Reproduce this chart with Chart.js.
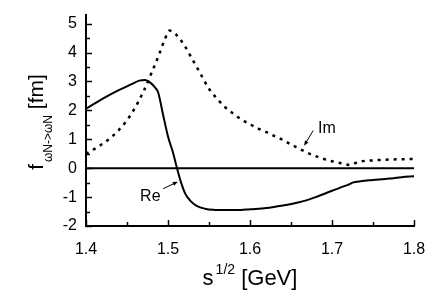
<!DOCTYPE html>
<html>
<head>
<meta charset="utf-8">
<script src="https://cdn.jsdelivr.net/npm/chart.js@4/dist/chart.umd.min.js"></script>
<style>
  html, body { margin: 0; padding: 0; background: #fff; }
  #wrap { width: 432px; height: 300px; }
</style>
</head>
<body>
<div id="wrap"><canvas id="c" width="432" height="300"></canvas></div>
<script>
// ---- data ----
const reX = [1.40, 1.42, 1.44, 1.455, 1.465, 1.472, 1.478, 1.484, 1.488, 1.494, 1.500, 1.506, 1.511, 1.516, 1.521, 1.527, 1.535, 1.545, 1.555, 1.57, 1.585, 1.60, 1.62, 1.64, 1.66, 1.68, 1.70, 1.715, 1.72, 1.725, 1.735, 1.75, 1.77, 1.785, 1.80];
const reY = [2.06, 2.40, 2.70, 2.90, 3.03, 3.05, 2.97, 2.80, 2.62, 1.85, 1.10, 0.55, 0.00, -0.50, -0.88, -1.12, -1.30, -1.40, -1.44, -1.45, -1.45, -1.42, -1.38, -1.29, -1.18, -1.00, -0.78, -0.62, -0.57, -0.50, -0.45, -0.41, -0.36, -0.31, -0.28];
const imX = [1.40, 1.41, 1.42, 1.43, 1.44, 1.45, 1.46, 1.47, 1.48, 1.49, 1.496, 1.502, 1.51, 1.52, 1.53, 1.54, 1.55, 1.56, 1.57, 1.58, 1.59, 1.60, 1.61, 1.62, 1.63, 1.64, 1.65, 1.66, 1.67, 1.68, 1.69, 1.70, 1.71, 1.722, 1.732, 1.75, 1.77, 1.80];
const imY = [0.50, 0.66, 0.84, 1.05, 1.32, 1.66, 2.10, 2.65, 3.30, 4.00, 4.45, 4.76, 4.62, 4.25, 3.75, 3.25, 2.75, 2.40, 2.10, 1.88, 1.68, 1.52, 1.37, 1.25, 1.11, 0.98, 0.82, 0.68, 0.53, 0.42, 0.32, 0.24, 0.18, 0.11, 0.22, 0.27, 0.30, 0.32];
const xTickValues = [1.4, 1.5, 1.6, 1.7, 1.8];
const yTickValues = [-2, -1, 0, 1, 2, 3, 4, 5];
// annotation anchors (data units)
const imLabel = { text: "Im", x: 1.683, y: 1.23, arrowFrom: [1.677, 1.30], arrowTo: [1.666, 0.78] };
const reLabel = { text: "Re", x: 1.466, y: -1.12, arrowFrom: [1.494, -0.71], arrowTo: [1.512, -0.47] };

const FONT = '"Liberation Sans", Arial, Helvetica, sans-serif';

const toPts = (xs, ys) => xs.map((x, i) => ({ x: x, y: ys[i] }));
const isMajor = (v, list) => list.some(t => Math.abs(t - v) < 1e-6);
const noScalePad = s => { s.paddingTop = 0; s.paddingBottom = 0; s.paddingLeft = 0; s.paddingRight = 0; };

const decor = {
  id: 'decor',
  beforeDatasetsDraw(chart) {
    const { ctx, chartArea: a, scales: { y } } = chart;
    ctx.save();
    ctx.strokeStyle = '#000';
    ctx.lineWidth = 2;
    const y0 = y.getPixelForValue(0);
    ctx.beginPath();
    ctx.moveTo(a.left, y0);
    ctx.lineTo(a.right, y0);
    ctx.stroke();
    ctx.restore();
  },
  afterDraw(chart) {
    const { ctx, chartArea: a, scales: { x, y } } = chart;
    ctx.save();
    ctx.strokeStyle = '#000';
    ctx.lineWidth = 1.5;
    for (let v = 1.4; v <= 1.8001; v += 0.05) {
      const px = Math.round(x.getPixelForValue(v)) + 0.5;
      const len = isMajor(v, xTickValues) ? 6 : 4;
      ctx.beginPath();
      ctx.moveTo(px, a.bottom);
      ctx.lineTo(px, a.bottom - len);
      ctx.stroke();
    }
    for (let v = -2; v <= 5.0001; v += 0.5) {
      const py = Math.round(y.getPixelForValue(v)) + 0.5;
      const len = isMajor(v, yTickValues) ? 6 : 4;
      ctx.beginPath();
      ctx.moveTo(a.left, py);
      ctx.lineTo(a.left + len, py);
      ctx.stroke();
    }
    // annotations
    ctx.fillStyle = '#000';
    ctx.font = '16px ' + FONT;
    ctx.textBaseline = 'alphabetic';
    ctx.textAlign = 'left';
    for (const L of [imLabel, reLabel]) {
      ctx.fillText(L.text, x.getPixelForValue(L.x), y.getPixelForValue(L.y));
      const x1 = x.getPixelForValue(L.arrowFrom[0]), y1 = y.getPixelForValue(L.arrowFrom[1]);
      const x2 = x.getPixelForValue(L.arrowTo[0]), y2 = y.getPixelForValue(L.arrowTo[1]);
      const ang = Math.atan2(y2 - y1, x2 - x1);
      ctx.lineWidth = 1;
      ctx.beginPath();
      ctx.moveTo(x1, y1);
      ctx.lineTo(x2 - 3 * Math.cos(ang), y2 - 3 * Math.sin(ang));
      ctx.stroke();
      ctx.beginPath();
      ctx.moveTo(x2, y2);
      ctx.lineTo(x2 - 5 * Math.cos(ang) + 2 * Math.sin(ang), y2 - 5 * Math.sin(ang) - 2 * Math.cos(ang));
      ctx.lineTo(x2 - 5 * Math.cos(ang) - 2 * Math.sin(ang), y2 - 5 * Math.sin(ang) + 2 * Math.cos(ang));
      ctx.closePath();
      ctx.fill();
    }
    // x axis title: s^{1/2} [GeV]
    const cx = 250;
    const by = a.bottom + 59;
    const big = '22px ' + FONT, small = '14px ' + FONT;
    ctx.font = big; const wS = ctx.measureText('s').width;
    ctx.font = small; const wSup = ctx.measureText('1/2').width;
    ctx.font = big; const wRest = ctx.measureText(' [GeV]').width;
    let sx = cx - (wS + 2 + wSup + wRest) / 2;
    ctx.font = big; ctx.fillText('s', sx, by); sx += wS + 2;
    ctx.font = small; ctx.fillText('1/2', sx, by - 11); sx += wSup;
    ctx.font = big; ctx.fillText(' [GeV]', sx, by);
    // y axis title: f_{ωN->ωN} [fm] rotated
    ctx.save();
    const bigY = '21px ' + FONT;
    ctx.translate(43, 122);
    ctx.rotate(-Math.PI / 2);
    ctx.font = bigY; const wF = ctx.measureText('f').width;
    const sub = '12px ' + FONT;
    ctx.font = sub; const wSub = ctx.measureText('ωN->ωN').width;
    ctx.font = bigY; const wFm = ctx.measureText(' [fm]').width;
    let tx = -(wF + 2 + wSub + wFm) / 2;
    ctx.font = bigY; ctx.fillText('f', tx, 0); tx += wF + 2;
    ctx.font = sub; ctx.fillText('ωN->ωN', tx, 9); tx += wSub;
    ctx.font = bigY; ctx.fillText(' [fm]', tx, 0);
    ctx.restore();
    ctx.restore();
  }
};

new Chart(document.getElementById('c'), {
  type: 'line',
  data: {
    datasets: [
      {
        label: 'Re',
        data: toPts(reX, reY),
        borderColor: '#000',
        borderWidth: 2,
        pointRadius: 0,
        fill: false,
        cubicInterpolationMode: 'monotone'
      },
      {
        label: 'Im',
        data: toPts(imX, imY),
        borderColor: '#000',
        borderWidth: 2.5,
        borderDash: [3, 5],
        pointRadius: 0,
        fill: false,
        cubicInterpolationMode: 'monotone'
      }
    ]
  },
  options: {
    responsive: false,
    animation: false,
    events: [],
    layout: { padding: { top: 15, right: 18, left: 0, bottom: 0 } },
    plugins: { legend: { display: false }, tooltip: { enabled: false } },
    scales: {
      x: {
        type: 'linear',
        min: 1.4, max: 1.8,
        grid: { display: false, drawTicks: false },
        border: { display: true, color: '#000', width: 2 },
        ticks: {
          stepSize: 0.1,
          autoSkip: false,
          maxRotation: 0,
          padding: 14,
          color: '#000',
          font: { family: FONT, size: 16 },
          callback: v => isMajor(v, xTickValues) ? v.toFixed(1) : ''
        },
        afterFit: s => { s.height = 74; noScalePad(s); }
      },
      y: {
        type: 'linear',
        min: -2, max: 5.3,
        grid: { display: false, drawTicks: false },
        border: { display: true, color: '#000', width: 2 },
        ticks: {
          stepSize: 1,
          includeBounds: false,
          autoSkip: false,
          padding: 9,
          color: '#000',
          font: { family: FONT, size: 16 },
          callback: v => isMajor(v, yTickValues) ? String(v) : ''
        },
        afterFit: s => { s.width = 86; noScalePad(s); }
      }
    }
  },
  plugins: [decor]
});
</script>
</body>
</html>
